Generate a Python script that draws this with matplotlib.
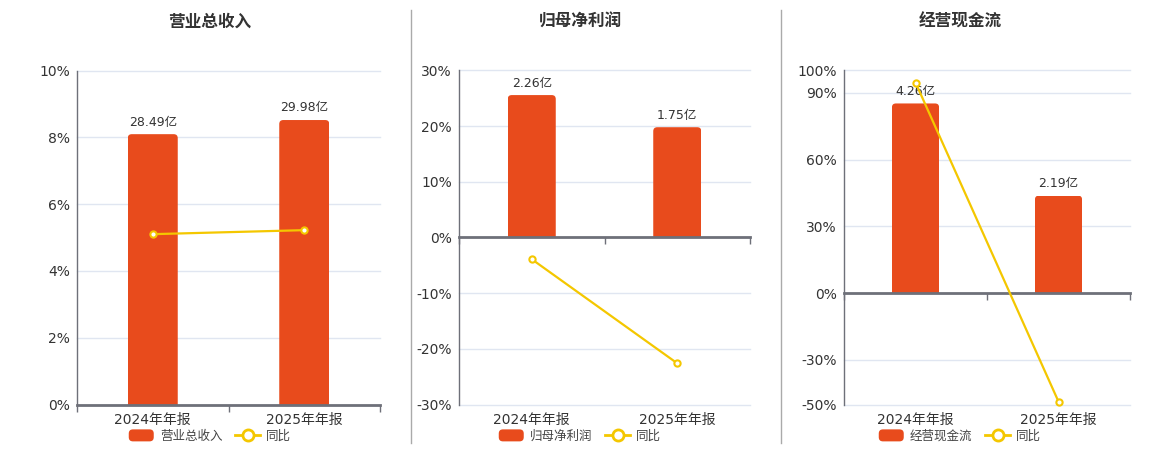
import matplotlib
matplotlib.use('Agg')
import matplotlib.pyplot as plt
from matplotlib.patches import FancyBboxPatch, Patch
from matplotlib.lines import Line2D
from matplotlib.legend_handler import HandlerPatch
from matplotlib.ticker import FuncFormatter

plt.rcParams['font.family'] = ['DejaVu Sans', 'Noto Sans CJK SC']

# data
periods = ['2024年年报', '2025年年报']
titles = ['营业总收入', '归母净利润', '经营现金流']
revenue = [28.49, 29.98]        # 亿
net_profit = [2.26, 1.75]
cash_flow = [4.26, 2.19]
revenue_yoy = [5.10, 5.22]      # %
net_profit_yoy = [-3.9, -22.6]
cash_flow_yoy = [94.6, -48.7]

amounts = [revenue, net_profit, cash_flow]
yoys = [revenue_yoy, net_profit_yoy, cash_flow_yoy]
pct_ticks = [[0, 2, 4, 6, 8, 10],
             [-30, -20, -10, 0, 10, 20, 30],
             [-50, -30, 0, 30, 60, 90, 100]]
bar_lims = [(0, 35.2), (-2.65, 2.65), (-2.5, 5.0)]

BAR = '#E84B1C'
LINE = '#F4C700'
AXIS = '#6E7079'
GRID = '#E0E6F1'
TEXT = '#333333'

W, H = 1160, 450
fig = plt.figure(figsize=(W / 100, H / 100), dpi=100)

# layout in pixels
panels_x = [(77, 380), (459, 750), (844, 1130)]
centers = [210, 580, 960]
top_px, bot_px = 70.5, 404.5


def round_legend_patch(legend, orig_handle, xdescent, ydescent, width, height, fontsize):
    return FancyBboxPatch((-xdescent, -ydescent), width, height,
                          boxstyle='round,pad=0,rounding_size=3')


for i in range(3):
    x0, x1 = panels_x[i]
    rect = [x0 / W, 1 - bot_px / H, (x1 - x0) / W, (bot_px - top_px) / H]
    ax = fig.add_axes(rect)          # percent axis
    axb = ax.twinx()                 # bar axis (hidden scale)
    xs = list(range(len(periods)))

    ax.set_xlim(-0.5, len(periods) - 0.5)
    ax.set_ylim(pct_ticks[i][0], pct_ticks[i][-1])
    axb.set_ylim(*bar_lims[i])

    ax.set_yticks(pct_ticks[i])
    ax.yaxis.set_major_formatter(FuncFormatter(lambda v, p: f'{v:.0f}%'))
    ax.yaxis.grid(True, color=GRID, lw=1)
    for gl in ax.yaxis.get_gridlines():
        gl.set_clip_on(False)
    ax.set_axisbelow(True)
    ax.tick_params(axis='y', length=0, pad=5, labelsize=10, labelcolor=TEXT)
    ax.set_xticks(xs)
    ax.set_xticklabels(periods)
    ax.set_xticks([-0.5, 0.5, 1.5], minor=True)
    ax.tick_params(axis='x', which='both', length=0, pad=6, labelsize=10, labelcolor=TEXT)
    for s in ['top', 'right', 'bottom']:
        ax.spines[s].set_visible(False)
    ax.spines['left'].set_color(AXIS)
    ax.spines['left'].set_linewidth(1)

    axb.xaxis.set_visible(True)
    axb.tick_params(axis='x', which='major', length=0, labelbottom=False)
    axb.tick_params(axis='x', which='minor', length=5, width=1, color=AXIS, labelbottom=False)
    axb.set_yticks([])
    for s in ['top', 'right', 'left']:
        axb.spines[s].set_visible(False)
    axb.spines['bottom'].set_position(('data', 0))
    axb.spines['bottom'].set_color(AXIS)
    axb.spines['bottom'].set_linewidth(2)

    bars = axb.bar(xs, amounts[i], width=0.33, color=BAR, zorder=2)
    # rounded top corners
    p0 = axb.transData.transform((0, 0))
    p1 = axb.transData.transform((1, 1))
    sx, sy = p1[0] - p0[0], p1[1] - p0[1]
    asp = sx / sy
    r = 4 / sx
    for b in bars:
        b.set_visible(False)
        ext = r * asp
        fb = FancyBboxPatch((b.get_x(), b.get_y() - ext), b.get_width(), b.get_height() + ext,
                            boxstyle=f'round,pad=0,rounding_size={r}', mutation_aspect=asp,
                            facecolor=BAR, edgecolor='none', zorder=2)
        axb.add_patch(fb)
        fb.set_clip_path(b)
    axb.bar_label(bars, labels=[f'{v:.2f}亿' for v in amounts[i]], padding=4,
                  fontsize=9, color=TEXT)

    axb.plot(xs, yoys[i], color=LINE, lw=1.6, marker='o', ms=4.5, mfc='white',
             mec=LINE, mew=1.5, transform=ax.transData, zorder=5, clip_on=False)
    axb.set_ylim(*bar_lims[i])
    axb.set_xlim(-0.5, len(periods) - 0.5)

    fig.text(centers[i] / W, 1 - 22 / H, titles[i], ha='center', va='center',
             fontsize=12, fontweight='bold', color=TEXT)

    handles = [Patch(facecolor=BAR, edgecolor='none', label=titles[i]),
               Line2D([], [], color=LINE, lw=2, marker='o', ms=8, mfc='white', mec=LINE,
                      mew=2, label='同比')]
    fig.legend(handles=handles, loc='center', bbox_to_anchor=(centers[i] / W, 1 - 436 / H),
               ncol=2, frameon=False, fontsize=9, handlelength=2, handleheight=1.1,
               handletextpad=0.5, columnspacing=1.0, labelcolor='#444444',
               handler_map={Patch: HandlerPatch(patch_func=round_legend_patch)})

# dividers
for xd in [410.5, 780.5]:
    fig.add_artist(Line2D([xd / W, xd / W], [1 - 10 / H, 1 - 443 / H],
                          transform=fig.transFigure, color='#AAAAAA', lw=1))

fig.savefig('out.png', dpi=100)
